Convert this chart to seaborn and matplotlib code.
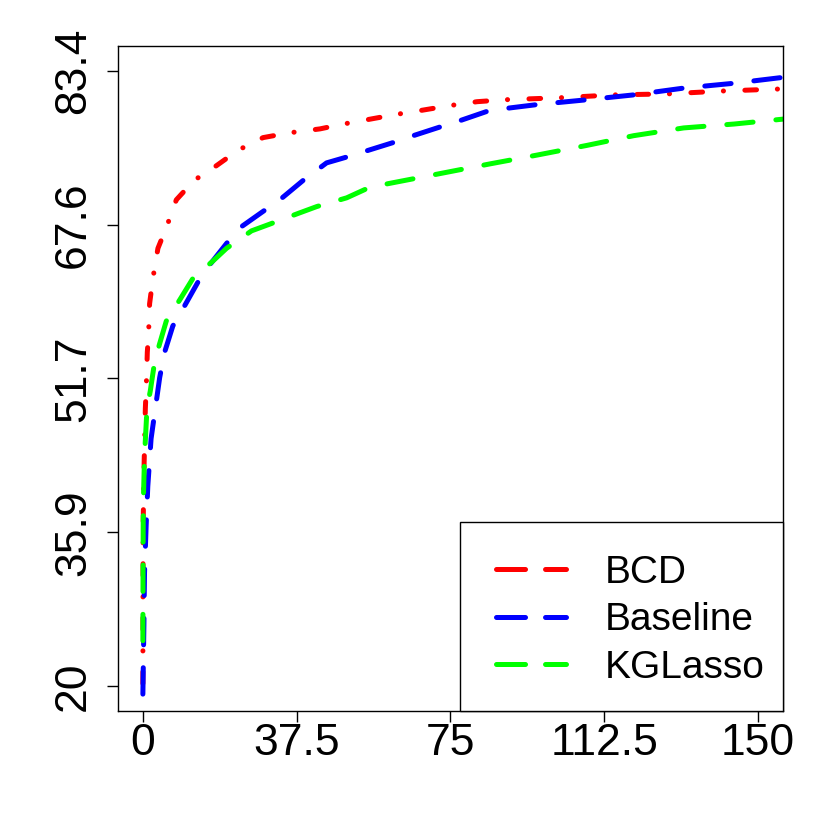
import numpy as np
import pandas as pd
import matplotlib
matplotlib.use("Agg")
import matplotlib.pyplot as plt
import seaborn as sns
from matplotlib.lines import Line2D
from matplotlib.patches import Rectangle

# ---------------- data ----------------
methods = ["BCD", "Baseline", "KGLasso"]
colors = ["#FF0000", "#0000FF", "#00FF00"]

bcd_x = [0.0, 0.05, 0.25, 0.6, 0.83, 1.08, 1.4, 1.64, 2.44, 3.67, 5.86, 8.16,
         12.5, 17.9, 23.2, 29.3, 35.8, 43.2, 48.9, 61.9, 66.4, 74.9, 81.5,
         88.1, 101.4, 114.8, 127.9, 141.3, 154.8, 158.0]
bcd_y = [20.3, 36.1, 41.9, 48.6, 50.9, 54.4, 56.4, 59.4, 62.0, 65.1, 67.4, 70.1,
         72.1, 73.6, 75.2, 76.5, 77.0, 77.4, 77.9, 78.9, 79.2, 79.8, 80.2,
         80.4, 80.6, 80.9, 81.0, 81.3, 81.5, 81.55]

base_x = [0.0, 0.25, 0.4, 0.8, 1.2, 2.0, 2.9, 4.1, 5.3, 7.3, 9.8, 13.4, 16.3,
          20.4, 23.6, 29.3, 33.4, 39.1, 44.8, 49.7, 61.1, 65.2, 72.5, 77.0,
          83.9, 88.4, 96.1, 108.3, 119.7, 131.9, 144.2, 156.0, 158.0]
base_y = [19.2, 26.3, 31.7, 36.6, 40.6, 45.5, 48.2, 51.8, 54.4, 57.1, 58.9, 61.6,
          63.4, 65.6, 67.2, 68.9, 70.1, 72.1, 73.9, 74.5, 76.0, 76.6, 77.6, 78.2,
          79.2, 79.5, 79.9, 80.4, 80.9, 81.6, 82.1, 82.7, 82.8]

kgl_x = [0.0, 0.02, 0.05, 0.1, 0.4, 1.0, 1.8, 2.9, 4.1, 5.7, 9.0, 12.2, 17.1,
         20.4, 26.5, 31.0, 37.9, 42.4, 49.7, 55.4, 65.2, 72.5, 84.7, 96.1,
         108.3, 119.7, 131.9, 144.2, 156.0, 158.0]
kgl_y = [24.7, 28.5, 33.4, 38.8, 43.7, 48.6, 50.4, 53.5, 55.3, 57.6, 59.8, 62.0,
         63.8, 65.1, 66.9, 67.6, 68.7, 69.4, 70.3, 71.4, 72.2, 72.8, 73.8, 74.7,
         75.7, 76.7, 77.5, 77.9, 78.4, 78.5]

x_ticks = [0, 37.5, 75, 112.5, 150]
x_labels = ["0", "37.5", "75", "112.5", "150"]
y_ticks = [20, 35.85, 51.7, 67.55, 83.4]
y_labels = ["20", "35.9", "51.7", "67.6", "83.4"]

df = pd.concat([
    pd.DataFrame({"x": bcd_x, "y": bcd_y, "method": "BCD"}),
    pd.DataFrame({"x": base_x, "y": base_y, "method": "Baseline"}),
    pd.DataFrame({"x": kgl_x, "y": kgl_y, "method": "KGLasso"}),
], ignore_index=True)

# ---------------- style ----------------
sns.set_style("ticks")
plt.rcParams["font.family"] = ["Liberation Sans", "DejaVu Sans"]
plt.rcParams["lines.scale_dashes"] = False
plt.rcParams["text.color"] = "black"

LW = 3.6
line_dashes = {
    "BCD": (8.4, 15.0, 0.1, 15.4),
    "Baseline": (19.0, 16.5),
    "KGLasso": (19.0, 16.5),
}

fig = plt.figure(figsize=(8.3, 8.3), dpi=100)
ax = fig.add_axes([0.1425, 0.1434, 0.8003, 0.8012])

sns.lineplot(data=df, x="x", y="y", hue="method", style="method",
             hue_order=methods, style_order=methods,
             palette=dict(zip(methods, colors)), dashes=line_dashes,
             estimator=None, sort=False, linewidth=LW, legend=False,
             dash_capstyle="round", solid_capstyle="round", ax=ax)

ax.set_xlim(-6, 156)
ax.set_ylim(20 - 0.04 * 63.4, 83.4 + 0.04 * 63.4)
ax.set_xticks(x_ticks)
ax.set_xticklabels(x_labels)
ax.set_yticks(y_ticks)
ax.set_yticklabels(y_labels, rotation=90, va="center")
ax.set_xlabel("")
ax.set_ylabel("")
ax.tick_params(axis="both", direction="out", length=8, width=1.0,
               labelsize=32, colors="black")
ax.tick_params(axis="x", pad=1)
ax.tick_params(axis="y", pad=9.5)
for s in ax.spines.values():
    s.set_visible(True)
    s.set_linewidth(1.0)
    s.set_color("black")

# legend box
ax.add_patch(Rectangle((0.5145, 0.0), 0.4855, 0.2847, transform=ax.transAxes,
                       facecolor="white", edgecolor="black", lw=1.0, zorder=3,
                       clip_on=False))
handles = [Line2D([], [], color=c, lw=LW, dashes=(20.9, 14.4),
                  dash_capstyle="round") for c in colors]
leg = ax.legend(handles, methods, loc="center left",
                bbox_to_anchor=(0.5684, 0.1364), frameon=False,
                fontsize=28, handlelength=1.817, handletextpad=0.98,
                borderpad=0, borderaxespad=0, labelspacing=0.29)
for t in leg.get_texts():
    t.set_color("black")
leg.set_zorder(4)

fig.savefig("out.png", dpi=100, facecolor="white")
